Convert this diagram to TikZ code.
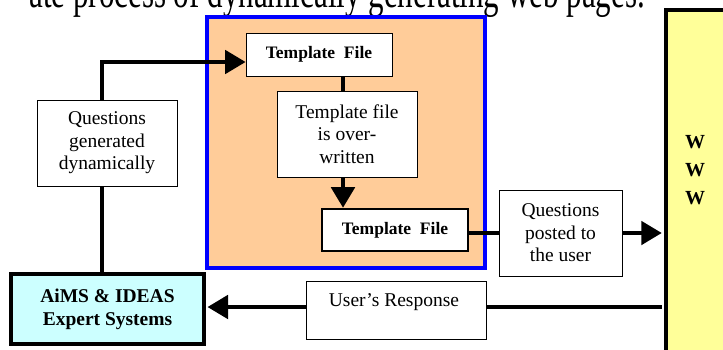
\documentclass[tikz,border=0pt]{standalone}
\usepackage{fontspec}
\setmainfont{Liberation Serif}
\usetikzlibrary{arrows.meta,calc}
\definecolor{peach}{RGB}{255,204,153}
\definecolor{lcyan}{RGB}{204,255,255}
\definecolor{lyellow}{RGB}{255,255,153}
\begin{document}
\begin{tikzpicture}[x=1pt,y=-1pt,
  box/.style={draw=black,fill=white,line width=0.9pt,inner sep=0pt,align=center,font=\fontsize{19.5}{22.5}\selectfont},
  bbox/.style={box,font=\fontsize{17.5}{21}\selectfont\bfseries},
  conn/.style={line width=3.6pt,draw=black},
  arr/.style={conn,-{Triangle[length=20.5pt,width=23.5pt]}}]
\useasboundingbox (0,0) rectangle (723,349);
\clip (0,0) rectangle (723,349);
% cut caption line
\node[anchor=base east,inner sep=0pt,font=\fontsize{31}{31}\selectfont,yscale=1.5] (cap) at (645,7) {ate process of dynamically generating web pages.};
% blue container
\node[draw=blue,fill=peach,line width=3.2pt,minimum width=278pt,minimum height=251pt,inner sep=0pt] (cont) at (346,142.5) {};
% WWW
\node[draw=black,fill=lyellow,line width=4.5pt,minimum width=80pt,minimum height=360pt,inner sep=0pt] (www) at (706,190) {};
\node[font=\fontsize{20}{28}\selectfont\bfseries,align=center,inner sep=0pt] (wtxt) at (695,170) {W\\W\\W};
% boxes
\node[bbox,minimum width=146pt,minimum height=43pt] (tf1) at (319,54.5) {Template\ \ File};
\node[box,minimum width=140pt,minimum height=86pt] (mid) at (347,134) {Template file\\is over-\\written};
\node[bbox,line width=2.6pt,minimum width=146pt,minimum height=42pt] (tf2) at (395,230) {Template\ \ File};
\node[box,minimum width=140pt,minimum height=86pt] (qg) at (107,143) {Questions\\generated\\dynamically};
\node[box,minimum width=123pt,minimum height=86pt] (qp) at (560.5,233) {Questions\\posted to\\the user};
\node[box,minimum width=180pt,minimum height=58pt] (ur) at (396,310) {};
\node[inner sep=0pt,font=\fontsize{19.5}{22.5}\selectfont] (urt) at (394,302) {User's Response};
\node[box,fill=lcyan,line width=3.5pt,minimum width=193pt,minimum height=70pt,font=\fontsize{19.5}{23}\selectfont\bfseries] (aims) at (107.5,309) {AiMS \& IDEAS\\Expert Systems};
% connectors
\coordinate (a1) at (102,62);
\draw[conn] (aims.north -| a1) -- (qg.south -| a1);
\draw[arr] (qg.north -| a1) -- (a1) -- (tf1.west |- a1);
\coordinate (a2) at (343,0);
\draw[conn] (tf1.south -| a2) -- (mid.north -| a2);
\draw[arr] (mid.south -| a2) -- (tf2.north -| a2);
\coordinate (a3) at (0,233);
\draw[conn] (tf2.east |- a3) -- (qp.west |- a3);
\draw[arr] (qp.east |- a3) -- ([xshift=-2pt]www.west |- a3);
\coordinate (a4) at (0,307);
\draw[conn] ([xshift=-2pt]www.west |- a4) -- (ur.east |- a4);
\draw[arr] (ur.west |- a4) -- ([xshift=1.8pt]aims.east |- a4);
\end{tikzpicture}
\end{document}
